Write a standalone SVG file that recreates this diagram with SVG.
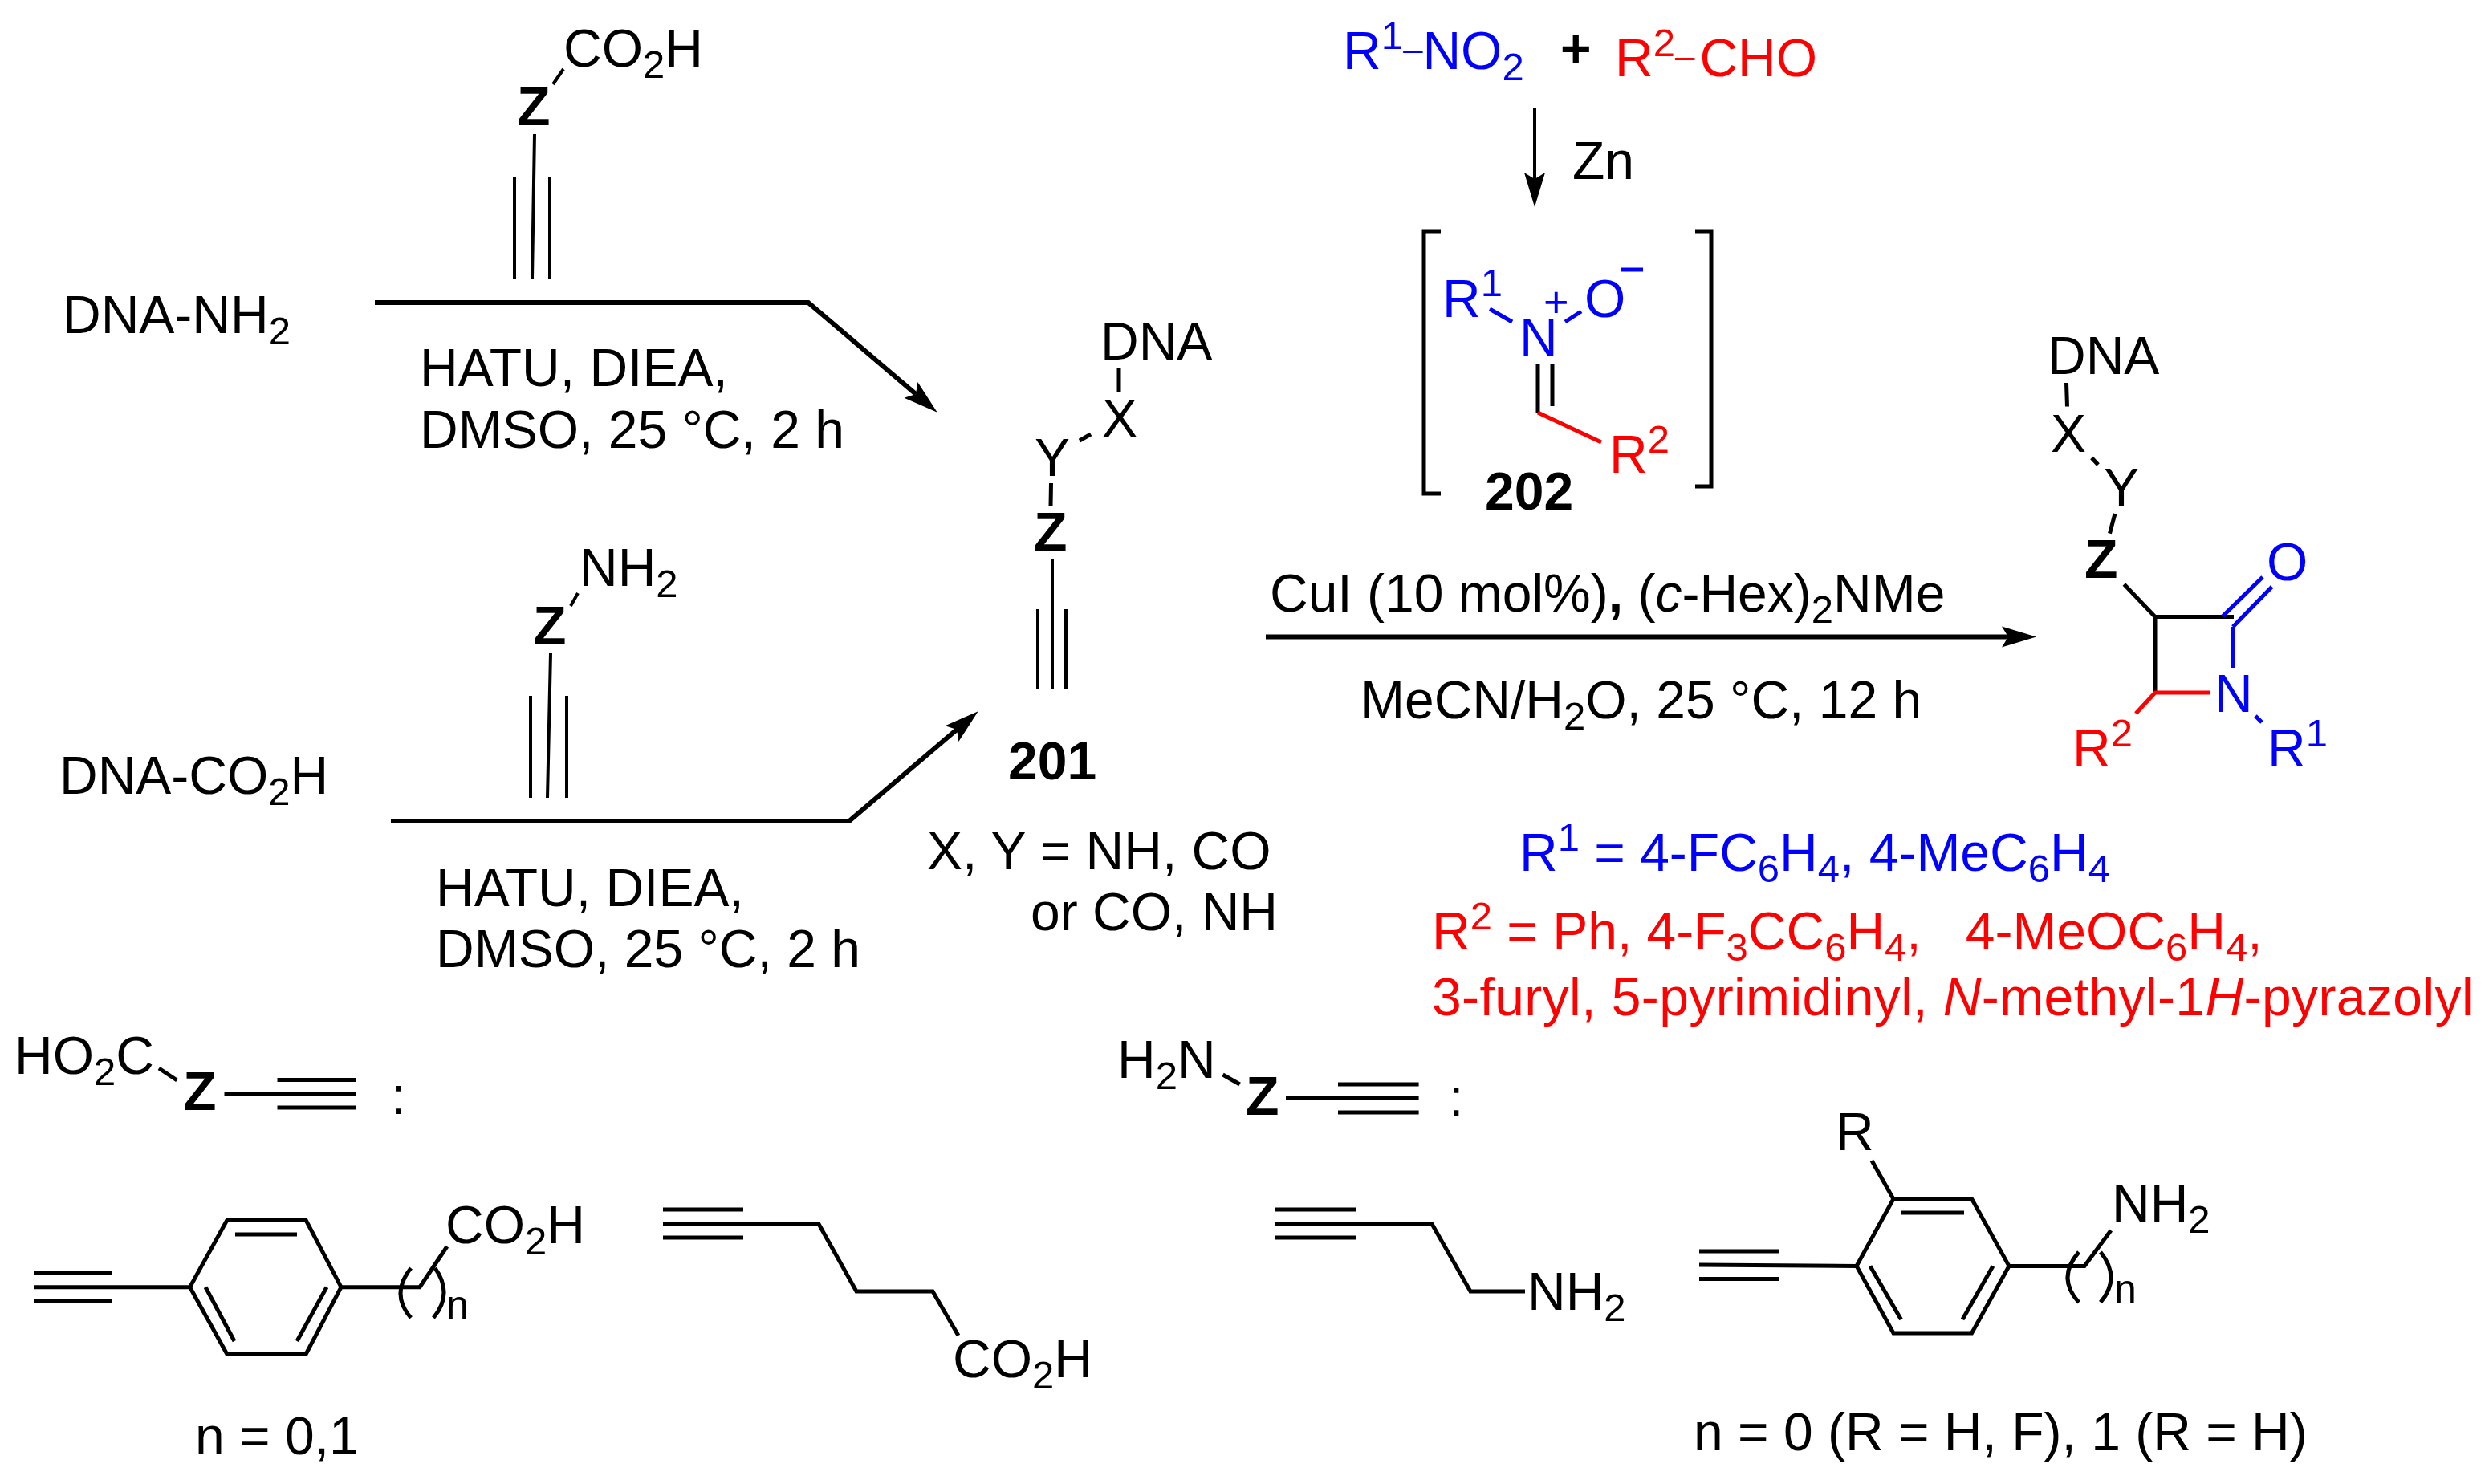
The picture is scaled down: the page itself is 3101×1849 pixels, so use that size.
<svg xmlns="http://www.w3.org/2000/svg" width="3101" height="1849" viewBox="0 0 3101 1849">
<style>
text{font-family:"Liberation Sans",Arial,sans-serif;font-size:66px;fill:#000}
.b{font-weight:bold}
.z{font-weight:bold;font-size:68px}
.s{font-size:49px}
.n{font-size:50px}
.d{font-size:44px}
.i{font-style:italic}
.blue,.blue text{fill:#0000ff}
.red,.red text{fill:#ff0000}
.l{fill:none;stroke:#000;stroke-width:5}
.lb{fill:none;stroke:#0000ff;stroke-width:5}
.lr{fill:none;stroke:#ff0000;stroke-width:5}
.a{fill:none;stroke:#000;stroke-width:6}
.t{fill:none;stroke:#000;stroke-width:4}
</style>
<defs>
<marker id="head" markerUnits="userSpaceOnUse" markerWidth="46" markerHeight="30" refX="8" refY="13" orient="auto" viewBox="0 0 46 26"><path d="M0,0L43,13L0,26L8,13Z" fill="#000"/></marker>
</defs>
<rect width="3101" height="1849" fill="#fff"/>
<g id="connectors">
<path class="a" marker-end="url(#head)" d="M467,377H1007L1141,491"/>
<path class="a" marker-end="url(#head)" d="M487,1023H1058L1192,909"/>
<path class="a" marker-end="url(#head)" d="M1577,793.5H2502"/>
<path class="t" marker-end="url(#head)" d="M1912,134V223"/>
</g>
<g id="reagent-top">
<text x="702" y="83">CO<tspan class="s" dy="14">2</tspan><tspan dy="-14">H</tspan></text>
<text class="z" x="644" y="156">Z</text>
<path class="t" d="M689,105L702,86M666,167L663,347M641,221V347M685,221V347"/>
</g>
<g id="reagent-bottom">
<text x="722" y="730">NH<tspan class="s" dy="14">2</tspan></text>
<text class="z" x="664" y="803">Z</text>
<path class="t" d="M711,755L720,739M686,814L682,994M661,867V994M706,867V994"/>
</g>
<g id="dna-nh2"><text x="78" y="415">DNA-NH<tspan class="s" dy="14">2</tspan></text></g>
<g id="dna-co2h"><text x="74" y="989">DNA-CO<tspan class="s" dy="14">2</tspan><tspan dy="-14">H</tspan></text></g>
<g id="conditions-top"><text x="523" y="481">HATU, DIEA,</text><text x="523" y="558">DMSO, 25 °C, 2 h</text></g>
<g id="conditions-bottom"><text x="543" y="1129">HATU, DIEA,</text><text x="543" y="1205">DMSO, 25 °C, 2 h</text></g>
<g id="compound-201">
<text x="1371" y="448">DNA</text><text x="1373" y="544">X</text><text x="1289" y="593">Y</text>
<text class="z" x="1288" y="686">Z</text>
<path class="l" d="M1394,459V488M1359,541L1345,549M1309.5,602L1309,631"/>
<path class="t" d="M1311,696V859M1293,759V859M1328,759V859"/>
<text class="b" x="1256" y="971">201</text>
<text x="1155" y="1083">X, Y = NH, CO</text><text x="1284" y="1159">or CO, NH</text>
</g>
<g id="starting-materials">
<text class="blue" x="1673" y="86">R<tspan class="s" dy="-25">1</tspan><tspan class="d" dy="15">–</tspan><tspan dy="10">NO</tspan><tspan class="s" dy="14">2</tspan></text>
<text class="b" x="1944" y="83">+</text>
<text class="red" x="2012" y="95">R<tspan class="s" dy="-25">2</tspan><tspan class="d" dy="15">–</tspan><tspan dx="6" dy="10">CHO</tspan></text>
<text x="1959" y="223">Zn</text>
</g>
<g id="compound-202">
<path class="l" d="M1795,288H1774V615H1795M2112,288H2132V606H2112"/>
<g class="blue">
<text x="1797" y="395">R<tspan class="s" dy="-26">1</tspan></text>
<text x="1893" y="443">N</text>
<text style="font-size:54px" x="1923" y="395">+</text>
<text x="1974" y="395">O</text>
</g>
<path class="lb" d="M1856,385L1884,401M1970,388L1950,401M2020,336H2047"/>
<path class="l" d="M1916,453V514M1934,453V506"/>
<path class="lr" d="M1916,514L1995,551"/>
<text class="red" x="2005" y="589">R<tspan class="s" dy="-25">2</tspan></text>
<text class="b" x="1850" y="635">202</text>
</g>
<g id="conditions-main">
<text x="1582" y="762">CuI (10 mol%)<tspan class="b">,</tspan> (<tspan class="i">c</tspan>-Hex)<tspan class="s" dy="14">2</tspan><tspan dy="-14">NMe</tspan></text>
<text x="1695" y="895">MeCN/H<tspan class="s" dy="14">2</tspan><tspan dy="-14">O, 25 °C, 12 h</tspan></text>
</g>
<g id="product">
<text x="2551" y="466">DNA</text><text x="2555" y="563">X</text><text x="2621" y="630">Y</text>
<text class="z" x="2597" y="720">Z</text>
<path class="l" d="M2574.5,477L2575.5,506.5M2606,570.5L2614,579M2635,640L2628.5,664.6M2646.4,728L2685,768.5V863M2685,768.5H2783"/>
<path class="lb" d="M2782,781V832M2769,768L2819,719M2782,781L2830.6,731M2810,892L2818,900"/>
<path class="lr" d="M2754,863H2685L2661,889"/>
<g class="blue"><text x="2824" y="723">O</text><text x="2759" y="887">N</text><text x="2825" y="955">R<tspan class="s" dy="-25">1</tspan></text></g>
<text class="red" x="2582" y="955">R<tspan class="s" dy="-25">2</tspan></text>
</g>
<g id="r-definitions">
<text class="blue" x="1893" y="1085">R<tspan class="s" dy="-25">1</tspan><tspan dy="25"> = 4-FC</tspan><tspan class="s" dy="14">6</tspan><tspan dy="-14">H</tspan><tspan class="s" dy="14">4</tspan><tspan dy="-14">, 4-MeC</tspan><tspan class="s" dy="14">6</tspan><tspan dy="-14">H</tspan><tspan class="s" dy="14">4</tspan></text>
<text class="red" x="1784" y="1183">R<tspan class="s" dy="-25">2</tspan><tspan dy="25"> = Ph, 4-F</tspan><tspan class="s" dy="14">3</tspan><tspan dy="-14">CC</tspan><tspan class="s" dy="14">6</tspan><tspan dy="-14">H</tspan><tspan class="s" dy="14">4</tspan><tspan dy="-14" xml:space="preserve">,   4-MeOC</tspan><tspan class="s" dy="14">6</tspan><tspan dy="-14">H</tspan><tspan class="s" dy="14">4</tspan><tspan dy="-14">,</tspan></text>
<text class="red" x="1784" y="1265" style="letter-spacing:.4px">3-furyl, 5-pyrimidinyl, <tspan class="i">N</tspan>-methyl-1<tspan class="i">H</tspan>-pyrazolyl</text>
</g>
<g id="legend-acid">
<text x="18" y="1338">HO<tspan class="s" dy="14">2</tspan><tspan dy="-14">C</tspan></text>
<text class="z" x="228" y="1383">Z</text>
<path class="l" d="M198,1331L220.5,1346M279.5,1363H444M345.5,1345.6H444M345.5,1380H444"/>
<text x="487" y="1388">:</text>
</g>
<g id="legend-amine">
<text x="1392" y="1343">H<tspan class="s" dy="14">2</tspan><tspan dy="-14">N</tspan></text>
<text class="z" x="1552" y="1389">Z</text>
<path class="l" d="M1523.5,1339L1544.6,1351M1602,1368H1767.6M1667,1351H1767.6M1667,1386H1767.6"/>
<text x="1805" y="1390">:</text>
</g>
<g id="acid-aryl">
<path class="l" d="M42,1603.7H236.6L283,1520H381L425,1603.7L381,1687.5H283L236.6,1603.7M42,1586H140M42,1621H140M293,1538H370M256,1603.7L292,1671M407,1603.7L370,1671M425,1603.7H523L557,1553"/>
<path class="l" d="M512,1580Q486,1612 512,1642M542,1580Q565,1612 540,1642"/>
<text x="555" y="1549">CO<tspan class="s" dy="14">2</tspan><tspan dy="-14">H</tspan></text>
<text class="n" x="556" y="1643">n</text>
<text x="243" y="1812">n = 0,1</text>
</g>
<g id="acid-alkyl">
<path class="l" d="M826,1525H1020L1067,1609H1162L1194,1664M826,1507H926M826,1542H926"/>
<text x="1187" y="1716">CO<tspan class="s" dy="14">2</tspan><tspan dy="-14">H</tspan></text>
</g>
<g id="amine-alkyl">
<path class="l" d="M1589,1525H1784L1832,1609H1900M1589,1507H1689M1589,1542H1689"/>
<text x="1903" y="1632">NH<tspan class="s" dy="14">2</tspan></text>
</g>
<g id="amine-aryl">
<path class="l" d="M2117,1576L2313,1577.4L2359,1493.7H2456.6L2503,1577.4L2456.6,1661H2359L2313,1577.4M2117,1559H2217M2117,1593.6H2217M2332,1446L2359,1494M2368.5,1511H2447M2330,1577.4L2368.5,1644M2483,1577.4L2445,1644M2503,1577.4H2597L2630,1533"/>
<path class="l" d="M2590,1560Q2562,1592 2590,1622.7M2617,1560Q2643,1592 2617,1622.7"/>
<text x="2287" y="1433">R</text>
<text x="2631" y="1522">NH<tspan class="s" dy="14">2</tspan></text>
<text class="n" x="2634" y="1623">n</text>
<text x="2110" y="1807">n = 0 (R = H, F), 1 (R = H)</text>
</g>
</svg>
